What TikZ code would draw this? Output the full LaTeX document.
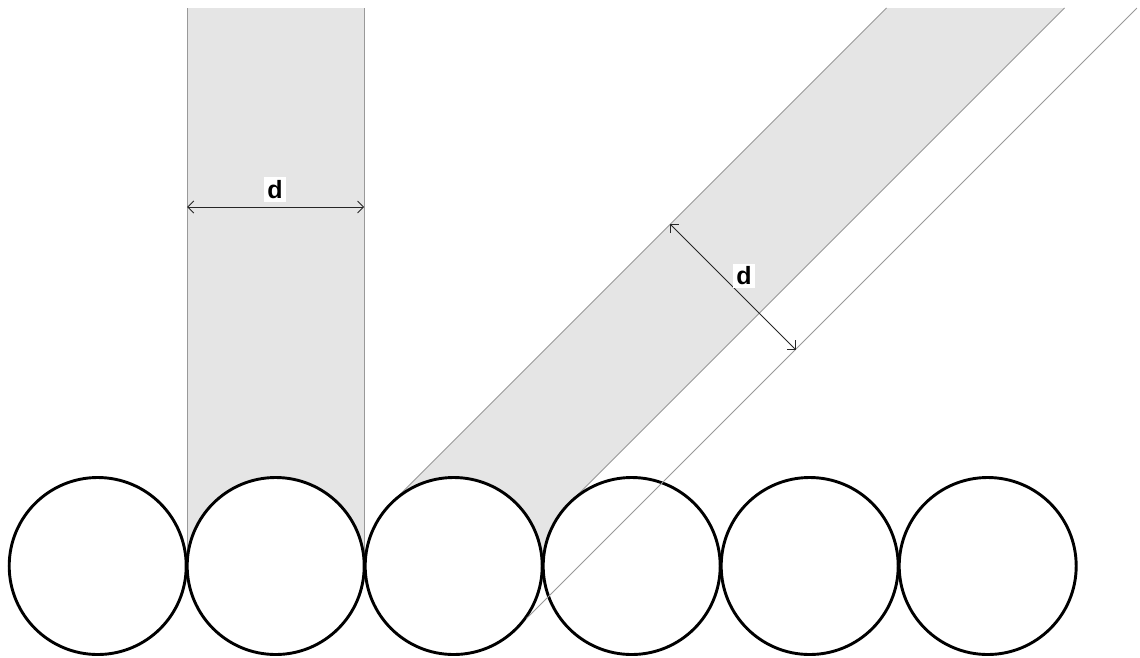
\documentclass[tikz,border=0pt]{standalone}
\usepackage{fontspec}
\setmainfont{Liberation Sans}
\usepackage{tikz}
\usetikzlibrary{arrows.meta}

\begin{document}
\begin{tikzpicture}[x=1pt,y=-1pt,>={Straight Barb[length=6pt,width=12pt]},
  band/.style={fill=black!10,draw=none},
  edge/.style={draw=black!40,line width=0.9pt},
  wheel/.style={draw=black,line width=2.9pt,fill=white},
  dim/.style={<->,line width=0.9pt,black!85},
  dlabel/.style={fill=white,inner sep=3.3pt,font=\bfseries\fontsize{25}{30}\selectfont}]
  \useasboundingbox (0,0) rectangle (1140,657);
  % the two bands, filled first so the wheels hide their lower ends
  \fill[band] (187.2,8) rectangle (364.2,566);
  \fill[band] (886.5,8) -- (1064.5,8) -- (569.1,503.4) -- (542.7,566) -- (391.1,503.4) -- cycle;
  % band edges
  \draw[edge] (187.2,8) -- (187.2,566);
  \draw[edge] (364.2,8) -- (364.2,566);
  \draw[edge] (886.5,8) -- (391.1,503.4);
  \draw[edge] (1064.5,8) -- (569.1,503.4);
  % the row of wheels
  \foreach \i in {0,...,5} \draw[wheel] ({97.7+178*\i},566) circle (88.5);
  % outer edge of the slanted width, drawn over the wheels
  \draw[edge] (1136.9,8) -- (526.5,618.4);
  % width d, upright band
  \coordinate (vl) at (187.2,207);
  \coordinate (vr) at (364.2,207);
  \draw[dim] (vl) -- (vr);
  \node[dlabel] (dvert) at (275,189.5) {d};
  % width d, slanted band
  \coordinate (sl) at (670.3,224.2);
  \coordinate (sr) at (795.5,349.4);
  \draw[dim] (sl) -- (sr);
  \node[dlabel] (dslant) at (744,276) {d};
\end{tikzpicture}
\end{document}
